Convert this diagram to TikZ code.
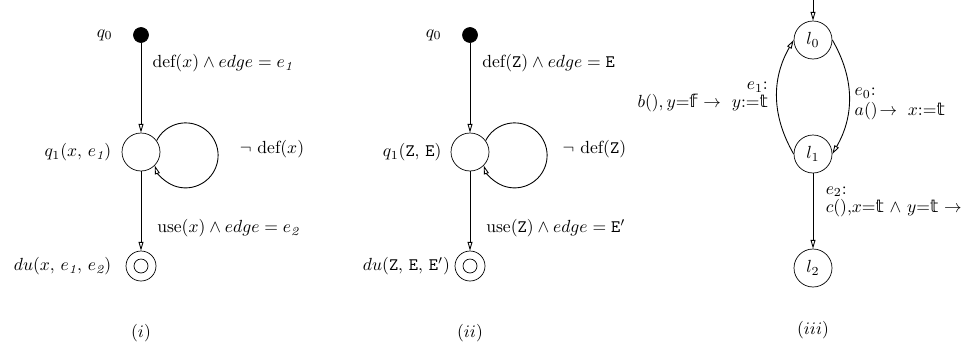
\documentclass[tikz,border=0pt]{standalone}
\usepackage{fontspec}
\newfontfamily\dejavu{DejaVu Sans}
\newcommand{\tval}{\mbox{\dejavu\symbol{"1D565}}}
\newcommand{\fval}{\mbox{\dejavu\symbol{"1D557}}}
\usetikzlibrary{arrows.meta, positioning}

\begin{document}
\begin{tikzpicture}[x=0.02cm, y=0.02cm, node distance=1cm]
        \tikzstyle{state} = [circle, draw, inner sep=0pt, minimum size=0.76cm]
        \tikzstyle{start} = [circle, draw, fill=black, inner sep=0pt, minimum size=0.3cm]
        \tikzstyle{final} = [circle, draw, inner sep=0pt, minimum size=0.6cm]
        \tikzstyle{line} = [draw, line width=0.5pt, -{Triangle[open, length=5pt, width=2.8pt]}]
        \tikzstyle{lbl} = [inner sep=2pt, font=\fontsize{10}{10.5}\selectfont]

        \useasboundingbox (0,0) rectangle (969,-349);

        % (i)
        \node [start] (q0) at (141,-35) {};
        \node [state] (q1) at (141,-152) {};
        \node [final] (du) at (141,-266) {};
        \draw (du) circle [radius=0.14cm];
        \node [lbl, left=9.5pt of q0] (lq0) {$q_0$};
        \node [lbl, left=3.7pt of q1] (lq1) {$q_1(x,\, e_{\mathit{1}})$};
        \node [lbl, left=6pt of du] (ldu) {$du(x,\, e_{\mathit{1}},\, e_{\mathit{2}})$};

        \path [line] (q0) -- node [lbl, right=4.3pt, pos=0.23] (d01) {def$(x) \wedge edge = e_{\mathit{1}}$} (q1);
        \path [line] (q1.36) arc [start angle=153, end angle=-162, radius=0.65cm]
            node [lbl, right=10.5pt, pos=0.45] (d11) {$\neg$ def$(x)$};
        \path [line] (q1) -- node [lbl, right=7pt, pos=0.72] (d12) {use$(x) \wedge edge = e_{\mathit{2}}$} (du);
        \node (cap1) at (141,-333) {$(i)$};

        % (ii)
        \node [start] (p0) at (470,-35) {};
        \node [state] (p1) at (470,-152) {};
        \node [final] (dv) at (470,-266) {};
        \draw (dv) circle [radius=0.14cm];
        \node [lbl, left=9.5pt of p0] (lp0) {$q_0$};
        \node [lbl, left=3pt of p1] (lp1) {$q_1(\mathtt{Z},\, \mathtt{E})$};
        \node [lbl, left=0.5pt of dv] (ldv) {$du(\mathtt{Z},\, \mathtt{E},\, \mathtt{E}')$};

        \path [line] (p0) -- node [lbl, right=4.8pt, pos=0.23] (c01) {def$(\mathtt{Z}) \wedge edge = \mathtt{E}$} (p1);
        \path [line] (p1.36) arc [start angle=153, end angle=-162, radius=0.65cm]
            node [lbl, right=7pt, pos=0.45] (c11) {$\neg$ def$(\mathtt{Z})$};
        \path [line] (p1) -- node [lbl, right=7pt, pos=0.72] (c12) {use$(\mathtt{Z}) \wedge edge = \mathtt{E}'$} (dv);
        \node (cap2) at (470,-333) {$(ii)$};

        % (iii)
        \coordinate (init) at (813,0);
        \node [state] (l0) at (813,-40) {$l_0$};
        \node [state] (l1) at (813,-154) {$l_1$};
        \node [state] (l2) at (813,-268) {$l_2$};

        \path [line] (init) -- (l0);
        \path [line] (l0.east) to [out=-60, in=60]
            node [lbl, right=1pt, yshift=-4pt, align=left] (e0) {$e_0$:\\[1pt]$a()\!\rightarrow\ x$:=\tval} (l1.east);
        \path [line] (l1.west) to [out=120, in=-120]
            node [lbl, left=3pt, align=right] (e1) {$e_1$:\\$b()$,\,$y$=\fval\ $\rightarrow\ y$:=\tval} (l0.west);
        \path [line] (l1) -- node [lbl, right=5pt, pos=0.38, align=left] (e2) {$e_2$:\\$c()$,$x$=\tval\ $\wedge\ y$=\tval\ $\rightarrow$} (l2);
        \node (cap3) at (813,-330) {$(iii)$};
    \end{tikzpicture}
\end{document}
